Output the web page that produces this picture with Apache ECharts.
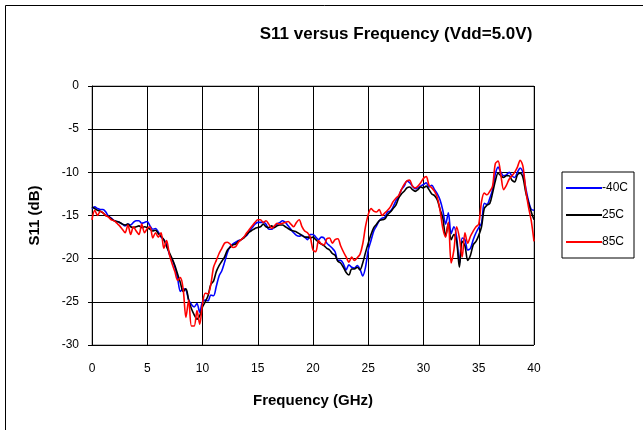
<!DOCTYPE html>
<html>
<head>
<meta charset="utf-8">
<script src="https://cdn.jsdelivr.net/npm/echarts@6/dist/echarts.min.js"></script>
<style>
  html, body { margin: 0; padding: 0; background: #fff; }
  #chart { width: 643px; height: 430px; }
</style>
</head>
<body>
<div id="chart"></div>
<script>
// sweep: 0 .. 40 GHz, one sample every 0.25 GHz
const FREQ_STEP = 0.25
const seriesNames = ['-40C', '25C', '85C']
const xTicks = [0, 5, 10, 15, 20, 25, 30, 35, 40]
const yTicks = [0, -5, -10, -15, -20, -25, -30]

const s11Minus40 = [
  -14.2, -14.0, -14.2, -14.3, -14.3, -14.6, -15.1, -15.3, -15.6, -15.7, -15.8, -16.0, -16.2, -16.0, -16.1, -15.8,
  -15.6, -15.6, -15.9, -15.8, -15.7, -16.2, -16.6, -16.5, -16.9, -17.5, -17.8, -18.3, -19.5, -20.1, -21.0, -22.3,
  -23.8, -23.5, -23.6, -24.8, -25.3, -25.6, -25.2, -26.2, -25.0, -24.8, -24.9, -24.2, -24.3, -23.2, -22.0, -21.4,
  -20.4, -19.3, -18.6, -18.3, -18.1, -17.9, -17.8, -17.5, -17.3, -16.8, -16.4, -16.0, -15.8, -15.8, -15.8, -16.0,
  -16.6, -16.6, -16.3, -16.0, -15.8, -15.6, -15.8, -16.2, -16.6, -17.0, -17.3, -17.4, -17.3, -17.5, -17.8, -17.2,
  -17.2, -17.5, -17.8, -17.5, -17.6, -18.2, -18.5, -18.8, -19.2, -20.2, -20.2, -20.6, -21.3, -20.7, -21.0, -21.1,
  -20.8, -21.2, -22.0, -21.0, -19.0, -17.9, -16.8, -16.2, -15.6, -15.3, -15.2, -14.6, -14.5, -14.0, -13.3, -12.8,
  -12.0, -11.6, -11.0, -11.2, -11.6, -11.9, -11.8, -11.6, -11.4, -11.2, -11.7, -11.5, -12.0, -12.5, -13.2, -14.4,
  -16.0, -14.7, -17.1, -16.3, -17.5, -20.6, -17.6, -17.8, -19.0, -18.8, -17.8, -17.0, -16.4, -15.9, -13.6, -13.7,
  -13.0, -12.0, -10.2, -9.4, -10.0, -10.4, -10.3, -10.0, -10.4, -10.6, -10.0, -9.5, -10.0, -11.8, -13.3, -14.3,
  -14.4
]

const s11At25 = [
  -14.0, -14.2, -14.4, -14.5, -14.7, -15.0, -15.1, -15.4, -15.6, -15.7, -15.8, -16.0, -16.1, -16.0, -16.3, -16.4,
  -16.3, -16.2, -16.4, -16.3, -16.4, -16.6, -16.8, -16.7, -17.1, -17.4, -17.8, -18.6, -19.3, -20.0, -20.8, -21.8,
  -22.8, -23.8, -23.5, -24.8, -25.8, -26.5, -27.0, -26.6, -25.6, -25.0, -24.3, -23.0, -22.6, -21.5, -20.8, -20.3,
  -19.8, -19.0, -18.7, -18.4, -18.3, -18.0, -17.8, -17.6, -17.2, -16.9, -16.7, -16.5, -16.4, -16.3, -16.0, -16.3,
  -16.4, -16.2, -16.4, -16.2, -16.1, -16.1, -16.3, -16.5, -16.7, -16.8, -16.9, -17.1, -17.3, -17.5, -17.5, -17.6,
  -17.5, -17.8, -18.1, -18.3, -18.5, -18.8, -19.0, -19.4, -19.6, -20.3, -20.5, -21.0, -21.6, -21.9, -21.2, -21.2,
  -21.0, -21.3, -20.5, -19.3, -18.2, -17.2, -16.4, -16.0, -15.6, -15.5, -15.4, -14.9, -14.6, -14.2, -13.8, -13.0,
  -12.5, -12.2, -11.8, -11.7, -12.0, -12.2, -12.0, -11.7, -11.8, -11.6, -12.0, -12.5, -12.7, -13.2, -14.3, -15.3,
  -17.4, -15.9, -17.8, -17.2, -18.0, -21.0, -18.0, -18.5, -20.2, -19.6, -18.4, -18.0, -17.3, -16.3, -14.2, -13.8,
  -13.6, -12.4, -11.0, -10.1, -10.4, -10.6, -10.4, -10.4, -10.9, -11.1, -10.3, -10.1, -10.6, -12.3, -13.5, -14.6,
  -15.5
]

const s11At85 = [
  -15.5, -14.4, -15.0, -14.5, -14.7, -15.0, -15.2, -15.5, -15.6, -15.9, -16.2, -16.6, -17.0, -16.1, -17.2, -16.3,
  -16.8, -17.2, -16.0, -17.0, -16.5, -16.3, -17.6, -17.0, -17.5, -17.0, -18.8, -17.9, -19.5, -20.6, -21.5, -22.5,
  -22.2, -23.5, -26.8, -24.8, -27.8, -27.8, -26.0, -27.6, -25.2, -24.0, -24.1, -23.0, -21.0, -20.2, -19.4, -18.8,
  -18.2, -18.1, -18.3, -18.7, -18.6, -18.1, -17.8, -17.5, -17.0, -16.6, -16.2, -15.8, -15.5, -15.5, -15.8, -15.6,
  -16.0, -16.5, -16.2, -15.9, -16.0, -15.9, -15.8, -15.7, -16.0, -16.3, -15.8, -15.5, -16.3, -16.8, -17.0, -17.5,
  -19.0, -19.2, -17.9, -18.3, -18.4, -17.7, -17.6, -18.2, -17.8, -17.7, -18.5, -19.2, -19.8, -20.4, -19.8, -20.2,
  -19.9, -19.5, -18.3, -16.3, -14.9, -14.2, -14.5, -14.6, -14.3, -15.0, -14.7, -14.4, -14.0, -13.4, -13.0, -12.7,
  -12.0, -11.4, -11.0, -10.9, -11.6, -11.8, -11.6, -11.2, -10.7, -10.5, -11.5, -11.8, -12.2, -12.9, -14.4, -16.5,
  -17.5, -15.8, -20.5, -19.0, -16.3, -17.6, -19.8, -17.0, -18.2, -17.4, -16.8, -16.3, -16.0, -13.4, -12.4, -12.6,
  -12.2, -11.6, -9.0, -8.7, -10.3, -12.0, -11.5, -10.8, -10.4, -10.0, -9.4, -8.6, -9.3, -12.0, -14.0, -15.6,
  -18.0
]

const colors = ['#0000ff', '#000000', '#ff0000']
const FONT = "'Liberation Sans', Arial, sans-serif"

const toPairs = arr => arr.map((v, i) => [i * FREQ_STEP, v])

const chart = echarts.init(document.getElementById('chart'), null, { renderer: 'canvas' })

chart.setOption({
  animation: false,
  textStyle: { fontFamily: FONT },
  title: {
    text: 'S11 versus Frequency (Vdd=5.0V)',
    left: 391, top: 21, textAlign: 'center',
    textStyle: { fontSize: 17, fontWeight: 'bold', color: '#000', fontFamily: FONT }
  },
  // outer chart-area frame (runs off the bottom/right of the picture)
  graphic: [{
    type: 'rect', left: 5, top: 5, z: -10,
    shape: { width: 660, height: 450 },
    style: { fill: '#fff', stroke: '#000', lineWidth: 1 }
  }],
  legend: {
    orient: 'vertical',
    left: 562, top: 172,
    data: seriesNames,
    icon: 'rect',
    itemWidth: 36, itemHeight: 2,
    itemGap: 15,
    padding: [10, 6, 10, 4],
    borderColor: '#000', borderWidth: 1,
    backgroundColor: '#fff',
    textStyle: { fontSize: 12, color: '#000', fontFamily: FONT, padding: [0, 0, 0, -5] }
  },
  grid: { left: 92, top: 86, width: 442, height: 259, show: true, borderColor: '#808080', borderWidth: 1 },
  xAxis: {
    type: 'value', min: 0, max: 40, interval: 5,
    name: 'Frequency (GHz)', nameLocation: 'middle', nameGap: 48,
    nameTextStyle: { fontSize: 15, fontWeight: 'bold', color: '#000', fontFamily: FONT },
    axisLine: { lineStyle: { color: '#000', width: 1 } },
    axisTick: { show: true, length: 4, inside: false, lineStyle: { color: '#000' } },
    axisLabel: { fontSize: 12, color: '#000', margin: 18, fontFamily: FONT,
      formatter: v => (xTicks.includes(v) ? String(v) : '') },
    splitLine: { show: true, lineStyle: { color: '#000', width: 1 } }
  },
  yAxis: {
    type: 'value', min: -30, max: 0, interval: 5,
    name: 'S11 (dB)', nameLocation: 'middle', nameGap: 50, nameRotate: 90,
    nameTextStyle: { fontSize: 15, fontWeight: 'bold', color: '#000', fontFamily: FONT },
    axisLine: { show: true, lineStyle: { color: '#000', width: 1 } },
    axisTick: { show: true, length: 4, inside: false, lineStyle: { color: '#000' } },
    axisLabel: { fontSize: 12, color: '#000', margin: 13, fontFamily: FONT,
      formatter: v => (yTicks.includes(v) ? String(v) : '') },
    splitLine: { show: true, lineStyle: { color: '#000', width: 1 } }
  },
  series: [s11Minus40, s11At25, s11At85].map((arr, i) => ({
    name: seriesNames[i],
    type: 'line',
    data: toPairs(arr),
    showSymbol: false,
    smooth: 0.3,
    color: colors[i],
    lineStyle: { color: colors[i], width: 1.6 },
    z: 2 + i
  }))
})
</script>
</body>
</html>
